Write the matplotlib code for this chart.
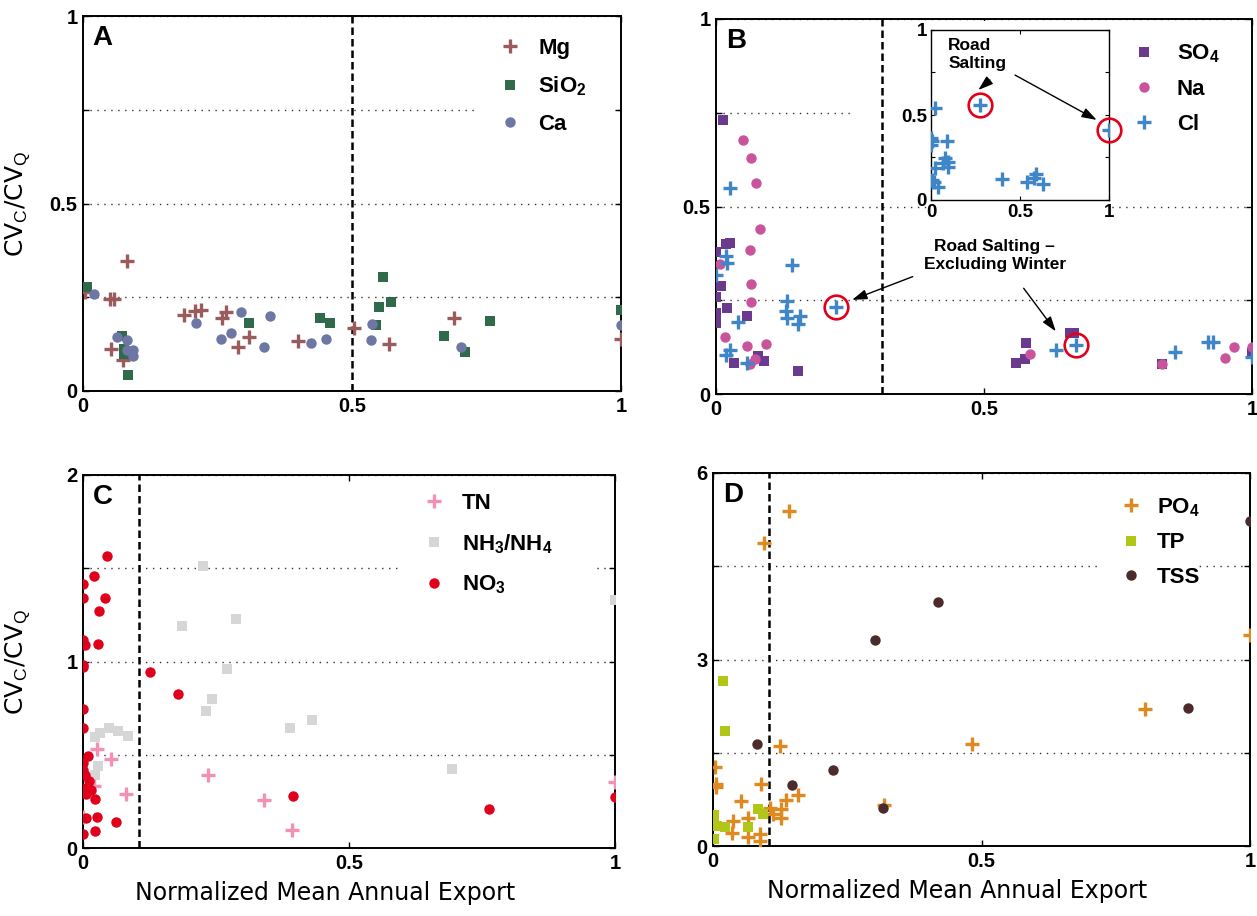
import matplotlib
matplotlib.use("Agg")
import matplotlib.pyplot as plt
from matplotlib.patches import Rectangle

plt.rcParams['font.family'] = ['Liberation Sans', 'DejaVu Sans']
plt.rcParams['mathtext.fontset'] = 'custom'
plt.rcParams['mathtext.rm'] = 'Liberation Sans'
plt.rcParams['mathtext.bf'] = 'Liberation Sans:bold'
plt.rcParams['mathtext.it'] = 'Liberation Sans:italic'

# ---------------- data ----------------
# Panel A
mg_x = [0.003, 0.050, 0.058, 0.052, 0.074, 0.082, 0.187, 0.209, 0.219, 0.259, 0.265, 0.289, 0.309, 0.400, 0.503, 0.568, 0.690, 1.0]
mg_y = [0.264, 0.245, 0.245, 0.111, 0.082, 0.347, 0.202, 0.214, 0.217, 0.196, 0.211, 0.117, 0.144, 0.134, 0.169, 0.125, 0.196, 0.138]
sio2_x = [0.008, 0.072, 0.076, 0.077, 0.084, 0.309, 0.441, 0.460, 0.544, 0.551, 0.557, 0.572, 0.671, 0.710, 0.756, 1.0]
sio2_y = [0.278, 0.147, 0.113, 0.100, 0.042, 0.181, 0.195, 0.181, 0.175, 0.223, 0.305, 0.238, 0.147, 0.104, 0.187, 0.216]
ca_x = [0.020, 0.063, 0.082, 0.082, 0.093, 0.093, 0.210, 0.257, 0.275, 0.294, 0.336, 0.348, 0.423, 0.451, 0.535, 0.537, 0.703, 1.0]
ca_y = [0.258, 0.144, 0.137, 0.110, 0.109, 0.093, 0.181, 0.140, 0.156, 0.211, 0.117, 0.200, 0.127, 0.140, 0.136, 0.178, 0.117, 0.175]

# Panel B
so4_x = [0.013, 0.0, 0.018, 0.027, 0.009, 0.0, 0.0, 0.0, 0.020, 0.057, 0.033, 0.078, 0.089, 0.153, 0.559, 0.577, 0.579, 0.660, 0.667, 0.832, 1.0]
so4_y = [0.732, 0.378, 0.400, 0.403, 0.289, 0.260, 0.215, 0.189, 0.229, 0.207, 0.082, 0.102, 0.087, 0.062, 0.084, 0.093, 0.136, 0.162, 0.162, 0.081, 0.109]
na_x = [0.050, 0.065, 0.075, 0.083, 0.063, 0.008, 0.066, 0.065, 0.016, 0.057, 0.093, 0.073, 0.063, 0.585, 0.832, 0.950, 0.967, 1.0]
na_y = [0.676, 0.629, 0.564, 0.441, 0.384, 0.348, 0.293, 0.245, 0.152, 0.129, 0.133, 0.094, 0.081, 0.106, 0.081, 0.096, 0.125, 0.125]
cl_x = [0.027, 0.018, 0.020, 0.0, 0.141, 0.133, 0.131, 0.133, 0.156, 0.153, 0.041, 0.027, 0.018, 0.057, 0.224, 0.634, 0.672, 0.857, 0.917, 0.927, 1.0]
cl_y = [0.548, 0.368, 0.350, 0.317, 0.344, 0.248, 0.222, 0.204, 0.207, 0.187, 0.191, 0.118, 0.105, 0.082, 0.233, 0.118, 0.131, 0.112, 0.140, 0.140, 0.098]
cl_road_x = [0.224, 0.672]
cl_road_y = [0.233, 0.131]

# Panel B inset (Cl, with winter)
clw_x = [0.022, 0.0, 0.008, 0.0, 0.088, 0.079, 0.094, 0.097, 0.070, 0.022, 0.004, 0.019, 0.037, 0.275, 0.397, 0.537, 0.580, 0.588, 0.631, 1.0]
clw_y = [0.543, 0.367, 0.347, 0.324, 0.347, 0.245, 0.225, 0.196, 0.216, 0.190, 0.118, 0.108, 0.078, 0.559, 0.122, 0.108, 0.131, 0.151, 0.092, 0.412]
clw_road_x = [0.275, 1.0]
clw_road_y = [0.559, 0.412]

# Panel C
tn_x = [0.027, 0.053, 0.080, 0.0, 0.020, 0.235, 0.341, 0.392, 1.0]
tn_y = [0.532, 0.479, 0.289, 0.164, 0.330, 0.393, 0.255, 0.095, 0.354]
nh_x = [0.226, 0.187, 0.288, 0.270, 0.242, 0.231, 0.390, 0.431, 0.694, 1.0, 0.022, 0.032, 0.048, 0.066, 0.085, 0.028, 0.022]
nh_y = [1.514, 1.188, 1.229, 0.961, 0.798, 0.732, 0.643, 0.688, 0.421, 1.330, 0.593, 0.616, 0.646, 0.629, 0.602, 0.437, 0.393]
no3_x = [0.046, 0.021, 0.0, 0.0, 0.042, 0.031, 0.0, 0.003, 0.029, 0.0, 0.0, 0.125, 0.178, 0.0, 0.0, 0.009, 0.0, 0.0, 0.003,
         0.012, 0.006, 0.015, 0.006, 0.023, 0.006, 0.027, 0.062, 0.0, 0.023, 0.394, 0.763, 1.0]
no3_y = [1.566, 1.461, 1.416, 1.343, 1.343, 1.273, 1.116, 1.089, 1.095, 0.982, 0.970, 0.946, 0.825, 0.745, 0.643, 0.491, 0.455, 0.420, 0.389,
         0.357, 0.320, 0.310, 0.290, 0.265, 0.161, 0.164, 0.139, 0.077, 0.089, 0.277, 0.211, 0.271]

# Panel D
po4_x = [0.141, 0.095, 1.0, 0.804, 0.482, 0.124, 0.004, 0.006, 0.006, 0.090, 0.052, 0.158, 0.136, 0.318, 0.107, 0.112, 0.127, 0.127, 0.066, 0.038, 0.035, 0.066, 0.087, 0.087]
po4_y = [5.383, 4.869, 3.396, 2.207, 1.644, 1.614, 1.271, 1.000, 0.950, 1.005, 0.721, 0.822, 0.737, 0.653, 0.604, 0.508, 0.593, 0.454, 0.454, 0.405, 0.214, 0.139, 0.192, 0.085]
tp_x = [0.018, 0.023, 0.083, 0.093, 0.001, 0.002, 0.008, 0.022, 0.001, 0.066]
tp_y = [2.657, 1.848, 0.588, 0.508, 0.497, 0.390, 0.320, 0.310, 0.120, 0.299]
tss_x = [1.0, 0.419, 0.301, 0.884, 0.082, 0.223, 0.148, 0.317]
tss_y = [5.222, 3.932, 3.316, 2.217, 1.646, 1.218, 0.989, 0.616]

# thresholds (vertical dashed lines)
thr_A, thr_B, thr_C, thr_D = 0.5, 0.309, 0.105, 0.104

# ---------------- style ----------------
C_MG, C_SIO2, C_CA = '#9B5A5C', '#2F6B4B', '#6E77A3'
C_SO4, C_NA, C_CL = '#6A3A8E', '#C8559C', '#3F86C9'
C_TN, C_NH, C_NO3 = '#F490B6', '#D6D6D6', '#E0001B'
C_PO4, C_TP, C_TSS = '#DF8A20', '#B2C619', '#4B2B2C'
C_RED = '#E2001A'

W, H = 1257, 916
fig = plt.figure(figsize=(W / 100, H / 100), dpi=100)

def pax(l, r, t, b):
    return fig.add_axes([l / W, (H - b) / H, (r - l) / W, (b - t) / H])

axA = pax(83, 621, 16, 391)
axB = pax(716, 1252, 19, 394)
axC = pax(83, 615, 475, 848)
axD = pax(713, 1250, 473, 846)

TICKFS = 14.5

def style(ax, ymax, ystep, ylabels):
    ax.set_xlim(0, 1)
    ax.set_ylim(0, ymax)
    yt = [i * ystep for i in range(int(round(ymax / ystep)) + 1)]
    ax.set_yticks(yt)
    ax.set_yticklabels(ylabels)
    ax.set_xticks([0, 0.5, 1])
    ax.set_xticklabels(['0', '0.5', '1'])
    ax.tick_params(direction='in', length=4, width=1, top=True, right=True,
                   labelsize=TICKFS, pad=4)
    for lab in ax.get_xticklabels() + ax.get_yticklabels():
        lab.set_fontweight('bold')
    for s in ax.spines.values():
        s.set_linewidth(1.4)
    ax.yaxis.grid(True, linestyle=(0, (1, 4)), color='0.2', linewidth=1.0)
    ax.set_axisbelow(True)

style(axA, 1.0, 0.25, ['0', '', '0.5', '', '1'])
style(axB, 1.0, 0.25, ['0', '', '0.5', '', '1'])
style(axC, 2.0, 0.5, ['0', '', '1', '', '2'])
style(axD, 6.0, 1.5, ['0', '', '3', '', '6'])

PLUS = dict(marker='+', linestyle='none', markersize=9.5, markeredgewidth=2.4)
SQ = dict(marker='s', linestyle='none', markersize=7.5, markeredgewidth=0)
CIRC = dict(marker='o', linestyle='none', markersize=7.5, markeredgewidth=0)

def mask(ax, x0, x1, y0, y1):
    ax.add_patch(Rectangle((x0, y0), x1 - x0, y1 - y0, facecolor='white',
                           edgecolor='none', zorder=1.5))

def dashed(ax, x):
    ax.axvline(x, color='black', linewidth=1.8, linestyle=(0, (3, 1.6)), zorder=2)

def legend(ax, handles, labels, bbox, spacing, textpad=0.75):
    lg = ax.legend(handles, labels, loc='upper left', bbox_to_anchor=bbox,
                   frameon=False, prop={'weight': 'bold', 'size': 16},
                   handlelength=1.0, handletextpad=textpad, labelspacing=spacing,
                   borderaxespad=0)
    lg.set_zorder(5)
    return lg

# ---------- Panel A ----------
mask(axA, 0.729, 0.985, 0.66, 0.99)
dashed(axA, thr_A)
hA1, = axA.plot(mg_x, mg_y, color=C_MG, **PLUS, zorder=3)
hA2, = axA.plot(sio2_x, sio2_y, color=C_SIO2, **SQ, zorder=3)
hA3, = axA.plot(ca_x, ca_y, color=C_CA, **CIRC, zorder=3)
legend(axA, [hA1, hA2, hA3], ['Mg', 'SiO$_\\mathbf{2}$', 'Ca'], (0.757, 0.965), 0.7)
axA.text(0.018, 0.975, 'A', transform=axA.transAxes, ha='left', va='top',
         fontsize=20, fontweight='bold')

# ---------- Panel B ----------
mask(axB, 0.258, 1.0, 0.66, 0.995)
mask(axB, 0.394, 0.734, 0.45, 0.66)
dashed(axB, thr_B)
hB1, = axB.plot(so4_x, so4_y, color=C_SO4, **SQ, zorder=3)
hB2, = axB.plot(na_x, na_y, color=C_NA, **CIRC, zorder=3)
hB3, = axB.plot(cl_x, cl_y, color=C_CL, **PLUS, zorder=3.2)
axB.plot(cl_road_x, cl_road_y, marker='o', linestyle='none', markersize=17,
         markerfacecolor='none', markeredgecolor=C_RED, markeredgewidth=1.9, zorder=3.3)
legend(axB, [hB1, hB2, hB3], ['SO$_\\mathbf{4}$', 'Na', 'Cl'], (0.762, 0.96), 0.62, 0.95)
axB.text(0.018, 0.975, 'B', transform=axB.transAxes, ha='left', va='top',
         fontsize=20, fontweight='bold')
axB.text(0.52, 0.37, 'Road Salting \u2013\nExcluding Winter', ha='center', va='center',
         fontsize=12.5, fontweight='bold', linespacing=1.25, zorder=4)
arrowprops = dict(arrowstyle='-|>,head_length=0.9,head_width=0.3', color='black',
                  lw=1.0, shrinkA=0, shrinkB=0)
axB.annotate('', xy=(0.254, 0.251), xytext=(0.367, 0.313), arrowprops=arrowprops, zorder=4)
axB.annotate('', xy=(0.634, 0.167), xytext=(0.574, 0.282), arrowprops=arrowprops, zorder=4)

# inset
axI = pax(931, 1109, 30, 200)
axI.set_xlim(0, 1)
axI.set_ylim(0, 1)
axI.set_xticks([0, 0.5, 1])
axI.set_xticklabels(['0', '0.5', '1'])
axI.set_yticks([0, 0.25, 0.5, 0.75, 1])
axI.set_yticklabels(['0', '', '0.5', '', '1'])
axI.tick_params(direction='in', length=3, width=0.8, top=True, right=True,
                labelsize=13.5, pad=3)
for lab in axI.get_xticklabels() + axI.get_yticklabels():
    lab.set_fontweight('bold')
for s in axI.spines.values():
    s.set_linewidth(1.0)
axI.plot(clw_x, clw_y, color=C_CL, **PLUS, zorder=3)
axI.plot(clw_road_x, clw_road_y, marker='o', linestyle='none', markersize=17,
         markerfacecolor='none', markeredgecolor=C_RED, markeredgewidth=1.9,
         zorder=3.3, clip_on=False)
axI.text(0.097, 0.955, 'Road\nSalting', ha='left', va='top', fontsize=12.5,
         fontweight='bold', linespacing=1.3)
axI.annotate('', xy=(0.266, 0.647), xytext=(0.331, 0.706), arrowprops=arrowprops)
axI.annotate('', xy=(0.931, 0.471), xytext=(0.472, 0.735), arrowprops=arrowprops)

# ---------- Panel C ----------
mask(axC, 0.597, 0.956, 1.3, 1.97)
dashed(axC, thr_C)
hC2, = axC.plot(nh_x, nh_y, color=C_NH, **SQ, zorder=3)
hC1, = axC.plot(tn_x, tn_y, color=C_TN, **PLUS, zorder=3.1)
hC3, = axC.plot(no3_x, no3_y, color=C_NO3, **CIRC, zorder=3.2)
legend(axC, [hC1, hC2, hC3], ['TN', 'NH$_\\mathbf{3}$/NH$_\\mathbf{4}$', 'NO$_\\mathbf{3}$'],
       (0.623, 0.975), 0.8)
axC.text(0.018, 0.975, 'C', transform=axC.transAxes, ha='left', va='top',
         fontsize=20, fontweight='bold')

# ---------- Panel D ----------
mask(axD, 0.723, 0.899, 4.0, 5.9)
dashed(axD, thr_D)
hD1, = axD.plot(po4_x, po4_y, color=C_PO4, **PLUS, zorder=3)
hD2, = axD.plot(tp_x, tp_y, color=C_TP, **SQ, zorder=3.1)
hD3, = axD.plot(tss_x, tss_y, color=C_TSS, **CIRC, zorder=3.2)
legend(axD, [hD1, hD2, hD3], ['PO$_\\mathbf{4}$', 'TP', 'TSS'], (0.742, 0.962), 0.62, 0.65)
axD.text(0.018, 0.975, 'D', transform=axD.transAxes, ha='left', va='top',
         fontsize=20, fontweight='bold')

# ---------- axis labels ----------
ylab = 'CV$_\\mathrm{C}$/CV$_\\mathrm{Q}$'
for ax in (axA, axC):
    ax.set_ylabel(ylab, fontsize=18, family='DejaVu Sans')
    ax.yaxis.set_label_coords(-0.095, 0.5)
for ax in (axC, axD):
    ax.set_xlabel('Normalized Mean Annual Export', fontsize=17, family='DejaVu Sans')
    ax.xaxis.set_label_coords(0.455, -0.088)

fig.savefig('out.png', dpi=100)
